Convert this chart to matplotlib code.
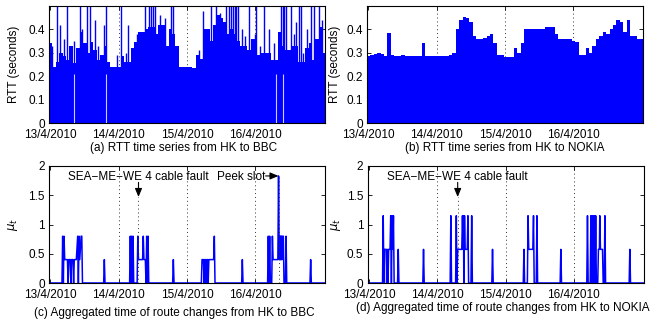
#!/usr/bin/env python3
"""RTT time series and route change panels (HK to BBC / NOKIA)"""
import numpy as np
import matplotlib
matplotlib.use('Agg')
import matplotlib.pyplot as plt

plt.rcParams['font.family'] = ['Liberation Sans', 'DejaVu Sans']
plt.rcParams['font.size'] = 8.5

BLUE = '#0000ff'
DAY_LABELS = ['13/4/2010', '14/4/2010', '15/4/2010', '16/4/2010']
DAY_TICKS = [0, 1, 2, 3]
XLIM = (-0.02, 4.02)
BIN = 0.05

# (a) RTT to BBC: envelope of dense samples per 0.05 day bin (seconds)
a_env = [0.34, 0.24, 0.26, 0.30, 0.285, 0.27, 0.33, 0.255, 0.32, 0.39,
         0.34, 0.30, 0.345, 0.31, 0.27, 0.29, 0.33, 0.26, 0.24, 0.24,
         0.24, 0.285, 0.26, 0.26, 0.32, 0.345, 0.39, 0.39, 0.40, 0.41,
         0.41, 0.38, 0.42, 0.42, 0.33, 0.40, 0.38, 0.33, 0.24, 0.24,
         0.24, 0.24, 0.235, 0.29, 0.275, 0.40, 0.40, 0.35, 0.42, 0.46,
         0.45, 0.43, 0.38, 0.40, 0.38, 0.35, 0.33, 0.33, 0.31, 0.36,
         0.36, 0.29, 0.30, 0.30, 0.30, 0.27, 0.27, 0.39, 0.33, 0.31,
         0.31, 0.33, 0.33, 0.26, 0.26, 0.32, 0.34, 0.27, 0.36, 0.41, 0.30]
a_spike_t = [0.09, 0.24, 0.43, 0.54, 0.58, 0.82, 1.04, 1.38, 1.45, 1.48,
             1.50, 1.53, 1.77, 1.79, 2.23, 2.35, 2.43, 2.57, 2.62, 2.65,
             2.67, 2.70, 2.72, 2.74, 2.91, 3.01, 3.13, 3.37, 3.40, 3.42,
             3.45, 3.52, 3.64, 3.67, 3.81, 3.86, 3.93,
             0.14, 0.35, 0.65, 0.78, 0.97, 1.14, 1.60, 2.80, 3.00, 3.20,
             3.60, 3.75, 3.98, 0.03, 0.20, 0.47, 0.70, 1.10, 1.27, 1.68,
             2.18, 2.48, 2.85, 3.07, 3.28, 3.56, 3.70, 3.89]
a_spike_h = [0.5, 0.5, 0.5, 0.5, 0.5, 0.5, 0.5, 0.5, 0.5, 0.5,
             0.5, 0.5, 0.5, 0.5, 0.48, 0.5, 0.5, 0.5, 0.5, 0.5,
             0.5, 0.5, 0.5, 0.5, 0.5, 0.5, 0.5, 0.5, 0.5, 0.5,
             0.5, 0.5, 0.5, 0.5, 0.5, 0.5, 0.5,
             0.42, 0.35, 0.44, 0.42, 0.29, 0.42, 0.46, 0.40, 0.38, 0.40,
             0.43, 0.40, 0.44, 0.33, 0.36, 0.40, 0.33, 0.30, 0.38, 0.45,
             0.31, 0.47, 0.37, 0.33, 0.34, 0.38, 0.30, 0.36]
a_gap_t = [0.34, 0.82, 3.31, 3.41]

# (b) RTT to NOKIA: envelope per 0.05 day bin (seconds)
b_env = [0.285, 0.29, 0.295, 0.30, 0.295, 0.285, 0.385, 0.29, 0.285, 0.285,
         0.29, 0.285, 0.285, 0.285, 0.287, 0.285, 0.34, 0.285, 0.285, 0.285,
         0.285, 0.285, 0.285, 0.285, 0.29, 0.30, 0.40, 0.44, 0.455, 0.45,
         0.43, 0.37, 0.36, 0.36, 0.365, 0.37, 0.38, 0.34, 0.29, 0.29,
         0.283, 0.283, 0.283, 0.32, 0.30, 0.34, 0.40, 0.40, 0.40, 0.40,
         0.40, 0.40, 0.41, 0.41, 0.41, 0.38, 0.36, 0.36, 0.36, 0.36,
         0.35, 0.345, 0.29, 0.29, 0.32, 0.30, 0.33, 0.36, 0.37, 0.39,
         0.38, 0.40, 0.42, 0.44, 0.43, 0.39, 0.44, 0.37, 0.37, 0.36, 0.36]

# (c) aggregated route change time, HK to BBC
c_t = [0.00, 0.17, 0.18, 0.19, 0.20, 0.21, 0.25, 0.26, 0.27, 0.29, 0.30, 0.31,
       0.33, 0.34, 0.35, 0.38, 0.40, 0.41, 0.42, 0.43, 0.45, 0.46, 0.47,
       0.78, 0.79, 0.80,
       1.16, 1.17, 1.18, 1.19, 1.20, 1.21, 1.22, 1.27, 1.28, 1.29, 1.35, 1.36,
       1.37, 1.39, 1.40, 1.41, 1.42, 1.43, 1.44,
       1.79, 1.80, 1.81,
       2.21, 2.22, 2.24, 2.25, 2.26, 2.27, 2.28, 2.29, 2.30, 2.31, 2.32, 2.39,
       2.40, 2.41,
       2.80, 2.81, 2.82,
       3.18, 3.19, 3.20, 3.21, 3.22, 3.24, 3.25, 3.26, 3.33, 3.34, 3.35, 3.355,
       3.36, 3.365, 3.37, 3.375, 3.38, 3.385, 3.39, 3.40, 3.41, 3.42, 3.44,
       3.45, 3.46,
       3.80, 3.81, 3.82, 4.02]
c_v = [0, 0, 0.8, 0, 0.8, 0.4, 0.4, 0, 0.4, 0.4, 0, 0.4,
       0.4, 0, 0.4, 0.4, 0.8, 0, 0.8, 0.4, 0.8, 0.8, 0,
       0, 0.4, 0,
       0, 0.8, 0, 0.8, 0, 0.8, 0, 0, 0.8, 0.4, 0.4, 0.8,
       0.4, 0.4, 0, 0.8, 0, 0.8, 0,
       0, 0.4, 0,
       0, 0.4, 0.4, 0, 0.4, 0.4, 0, 0.4, 0.4, 0, 0.4, 0.4,
       0.8, 0,
       0, 0.4, 0,
       0, 0.8, 0, 0.8, 0, 0, 0.8, 0.4, 0.4, 1.83, 0.4, 0.8,
       0.4, 0.8, 0.4, 0.8, 0.4, 0.8, 0.4, 0.8, 0.8, 0, 0,
       0.8, 0,
       0, 0.4, 0, 0]

# (d) aggregated route change time, HK to NOKIA
d_t = [0.00, 0.20, 0.21, 0.22, 0.23, 0.255, 0.26, 0.27, 0.28, 0.29, 0.31,
       0.32, 0.33, 0.34, 0.35, 0.36, 0.37, 0.42, 0.43, 0.44,
       0.79, 0.80, 0.81,
       1.19, 1.20, 1.21, 1.27, 1.28, 1.29, 1.30, 1.36, 1.37, 1.38, 1.385,
       1.39, 1.40, 1.41, 1.44, 1.45, 1.46, 1.495, 1.505, 1.515,
       1.80, 1.81, 1.82,
       2.26, 2.27, 2.28, 2.32, 2.33, 2.34, 2.40, 2.41, 2.42, 2.45, 2.46, 2.47,
       2.80, 2.81, 2.82,
       3.19, 3.20, 3.21, 3.24, 3.25, 3.26, 3.265, 3.27, 3.28, 3.29, 3.30,
       3.31, 3.32, 3.33, 3.35, 3.36, 3.375, 3.38, 3.39, 3.42, 3.43, 3.445,
       3.455, 3.465,
       3.81, 3.82, 3.83, 4.02]
d_v = [0, 0, 1.15, 0, 0.575, 0.575, 0, 0.575, 0, 0.575, 0.575,
       1.15, 0, 1.15, 0.575, 1.15, 0, 0, 0.575, 0,
       0, 0.575, 0,
       0, 1.15, 0, 0, 1.15, 0, 0.575, 0.575, 1.15, 0.575, 1.15,
       0, 1.15, 0.575, 0.575, 1.15, 0, 0, 1.15, 0,
       0, 0.575, 0,
       0, 0.575, 0, 0, 1.15, 0.575, 0.575, 1.15, 0, 0, 1.15, 0,
       0, 0.575, 0,
       0, 1.15, 0, 0, 1.15, 0, 1.15, 0, 1.15, 0, 1.15,
       0, 1.15, 0, 0, 0.575, 0.575, 1.15, 0.575, 0.575, 0, 0,
       1.15, 0,
       0, 0.575, 0, 0]

FAULT_DAY = 1.29
PEAK_DAY = 3.34
ARROW = dict(arrowstyle='-|>,head_width=0.25,head_length=0.6',
             color='black', lw=0.8, shrinkA=0, shrinkB=0)


def style_axis(ax, ylim, yticks, yticklabels):
    ax.set_xlim(*XLIM)
    ax.set_ylim(*ylim)
    ax.set_xticks(DAY_TICKS)
    ax.set_xticklabels(DAY_LABELS)
    ax.set_yticks(yticks)
    ax.set_yticklabels(yticklabels)
    ax.tick_params(direction='in', top=True, right=True, length=3,
                   width=0.6, labelsize=8.5, pad=3)
    ax.tick_params(axis='x', pad=4.5)
    for s in ax.spines.values():
        s.set_linewidth(0.8)
    for d in DAY_TICKS[1:]:
        ax.axvline(d, color='#333333', lw=0.7, ls=(0, (1, 3)), zorder=0)


fig = plt.figure(figsize=(6.72, 3.23), dpi=100)
W, H = 672, 323


def add_axes(left, top, right, bottom):
    return fig.add_axes([left / W, 1 - bottom / H, (right - left) / W,
                         (bottom - top) / H])


ax_a = add_axes(49, 6, 325, 123)
ax_b = add_axes(367, 6, 643, 123)
ax_c = add_axes(49, 166, 325, 283)
ax_d = add_axes(367.5, 166, 643.5, 283)

edges = XLIM[0] + BIN * np.arange(len(a_env))

# (a)
ax_a.bar(edges, a_env, width=BIN, align='edge', color=BLUE, linewidth=0,
         zorder=2)
ax_a.vlines(a_spike_t, 0, a_spike_h, color=BLUE, lw=1.0, zorder=2)
ax_a.vlines(a_gap_t, 0, 0.21, color='white', lw=0.8, alpha=0.8, zorder=3)
style_axis(ax_a, (0, 0.5), [0, 0.1, 0.2, 0.3, 0.4],
           ['0', '0.1', '0.2', '0.3', '0.4'])
ax_a.set_ylabel('RTT (seconds)')
ax_a.yaxis.set_label_coords(-0.105, 0.5)

# (b)
ax_b.bar(edges, b_env, width=BIN, align='edge', color=BLUE, linewidth=0,
         zorder=2)
style_axis(ax_b, (0, 0.5), [0, 0.1, 0.2, 0.3, 0.4],
           ['0', '0.1', '0.2', '0.3', '0.4'])
ax_b.set_ylabel('RTT (seconds)')
ax_b.yaxis.set_label_coords(-0.095, 0.5)

# (c)
ax_c.plot(c_t, c_v, color=BLUE, lw=1.1, zorder=2)
style_axis(ax_c, (0, 2), [0, 0.5, 1, 1.5, 2], ['0', '0.5', '1', '1.5', '2'])
ax_c.set_ylabel(r'$\mu_t$')
ax_c.yaxis.set_label_coords(-0.105, 0.5)
ax_c.vlines([FAULT_DAY], 0, 1.47, color='#333333', lw=0.7, ls=(0, (1, 3)))
ax_c.vlines([PEAK_DAY], 0, 1.83, color='#333333', lw=0.7, ls=(0, (1, 3)))
ax_c.text(FAULT_DAY, 1.82, 'SEA\u2212ME\u2212WE 4 cable fault', ha='center',
          va='center', fontsize=8.5)
ax_c.annotate('', xy=(FAULT_DAY, 1.47), xytext=(FAULT_DAY, 1.72),
              arrowprops=ARROW)
ax_c.text(3.14, 1.82, 'Peek slot', ha='right', va='center', fontsize=8.5)
ax_c.annotate('', xy=(PEAK_DAY, 1.83), xytext=(3.15, 1.83),
              arrowprops=ARROW)

# (d)
ax_d.plot(d_t, d_v, color=BLUE, lw=1.1, zorder=2)
style_axis(ax_d, (0, 2), [0, 0.5, 1, 1.5, 2], ['0', '0.5', '1', '1.5', '2'])
ax_d.set_ylabel(r'$\mu_t$')
ax_d.yaxis.set_label_coords(-0.09, 0.5)
ax_d.vlines([1.30], 0, 1.47, color='#333333', lw=0.7, ls=(0, (1, 3)))
ax_d.text(1.30, 1.82, 'SEA\u2212ME\u2212WE 4 cable fault', ha='center',
          va='center', fontsize=8.5)
ax_d.annotate('', xy=(1.30, 1.47), xytext=(1.30, 1.72), arrowprops=ARROW)

# captions
fig.text(184 / W, 1 - 148 / H, '(a) RTT time series from HK to BBC',
         ha='center', va='center', fontsize=8.5)
fig.text(505 / W, 1 - 148 / H, '(b) RTT time series from HK to NOKIA',
         ha='center', va='center', fontsize=8.5)
fig.text(174 / W, 1 - 313 / H,
         '(c) Aggregated time of route changes from HK to BBC',
         ha='center', va='center', fontsize=8.5)
fig.text(503 / W, 1 - 308 / H,
         '(d) Aggregated time of route changes from HK to NOKIA',
         ha='center', va='center', fontsize=8.5)

fig.savefig('out.png', dpi=100)
plt.close(fig)
